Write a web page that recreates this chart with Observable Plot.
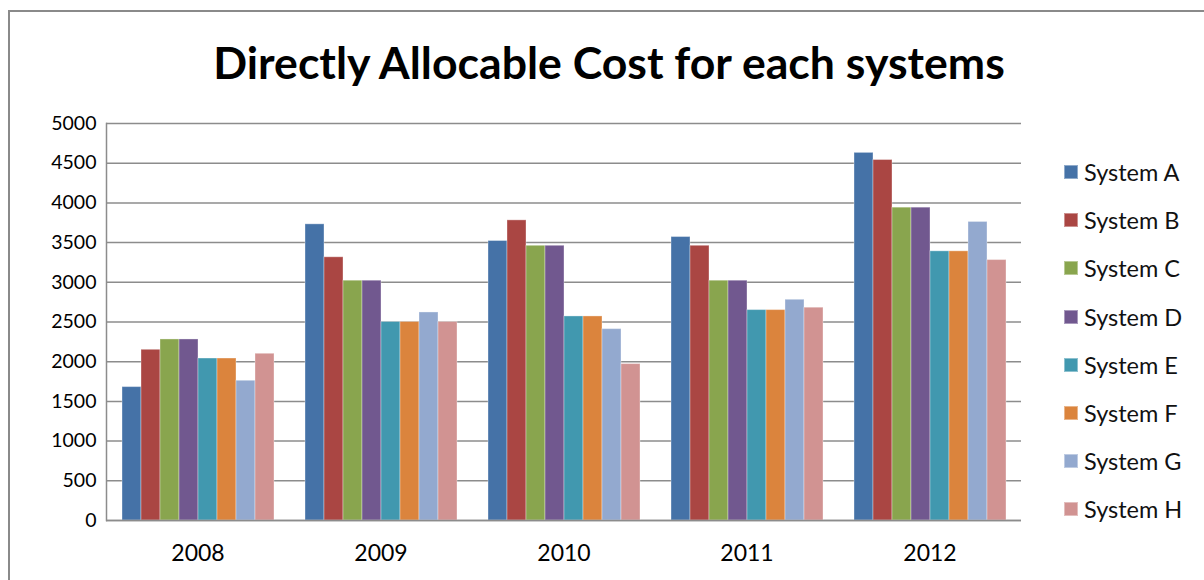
<!DOCTYPE html>
<html>
<head>
<meta charset="utf-8">
<script src="https://cdn.jsdelivr.net/npm/d3@7"></script>
<script src="https://cdn.jsdelivr.net/npm/@observablehq/plot@0.6"></script>
<style>
  html, body { margin: 0; padding: 0; background: #fff; }
  #chart { position: relative; width: 1204px; height: 580px; overflow: hidden; font-family: Lato, "Open Sans", sans-serif; }
  #border { position: absolute; left: 8px; top: 10px; right: -4px; bottom: -4px; border-left: 2px solid #8a8a8a; border-top: 2px solid #8a8a8a; pointer-events: none; }
  #title { position: absolute; left: 0; width: 1218px; top: 36px; text-align: center; font-weight: bold; font-size: 44.6px; line-height: 52px; color: #000; }
  #legend { position: absolute; left: 1064px; top: 148px; }
  .row { display: flex; align-items: center; height: 48.2px; font-size: 23.5px; color: #111; white-space: nowrap; }
  .sw { width: 14px; height: 14px; margin-right: 6px; box-sizing: border-box; border: 1px solid rgba(255,255,255,0.4); }
  #plot { position: absolute; left: 0; top: 0; }
</style>
</head>
<body>
<div id="chart">
  <div id="plot"></div>
  <div id="border"></div>
  <div id="title">Directly Allocable Cost for each systems</div>
  <div id="legend"></div>
</div>
<script>
const years = ["2008", "2009", "2010", "2011", "2012"];
const systems = ["System A", "System B", "System C", "System D", "System E", "System F", "System G", "System H"];
const colors = ["#4572A7", "#AA4643", "#89A54E", "#71588F", "#4198AF", "#DB843D", "#93A9CF", "#D19392"];

// cost per system, one value per year (2008..2012)
const systemA = [1680, 3730, 3520, 3570, 4630];
const systemB = [2150, 3315, 3780, 3460, 4540];
const systemC = [2280, 3020, 3460, 3020, 3940];
const systemD = [2280, 3020, 3460, 3020, 3940];
const systemE = [2040, 2500, 2570, 2650, 3390];
const systemF = [2040, 2500, 2570, 2650, 3390];
const systemG = [1760, 2620, 2410, 2780, 3760];
const systemH = [2100, 2500, 1970, 2680, 3280];

const yTicks = [0, 500, 1000, 1500, 2000, 2500, 3000, 3500, 4000, 4500, 5000];

const series = [systemA, systemB, systemC, systemD, systemE, systemF, systemG, systemH];
const table = [];
years.forEach((year, j) => {
  systems.forEach((system, i) => {
    table.push({year, system, value: series[i][j]});
  });
});

const grid = "#8c8c8c";

const chart = Plot.plot({
  width: 1204,
  height: 580,
  marginLeft: 105,
  marginRight: 183,
  marginTop: 123,
  marginBottom: 60,
  style: {fontFamily: "Lato, 'Open Sans', sans-serif", fontSize: "19px", color: "#000", background: "transparent", overflow: "visible"},
  fx: {domain: years, padding: 0, label: null, axis: null},
  x: {domain: systems, axis: null, paddingInner: 0, paddingOuter: 0.75},
  y: {domain: [0, 5000], label: null, axis: null},
  color: {domain: systems, range: colors},
  marks: [
    Plot.gridY(yTicks, {stroke: grid, strokeOpacity: 1, strokeWidth: 1.5}),
    Plot.barY(table, {fx: "year", x: "system", y: "value", fill: "system", stroke: "#fff", strokeOpacity: 0.35, strokeWidth: 1, insetLeft: 0, insetRight: 0}),
    Plot.ruleY([0], {stroke: grid, strokeWidth: 1.5}),
    Plot.frame({anchor: "left", facetAnchor: "left", stroke: grid, strokeOpacity: 1, strokeWidth: 1.5}),
    Plot.axisY(yTicks, {tickSize: 0, tickPadding: 10, tickFormat: d3.format("d"), label: null, fill: "#000", fontSize: 19.5}),
    Plot.axisFx({anchor: "bottom", tickSize: 0, tickPadding: 24, label: null, fill: "#000", fontSize: 23})
  ]
});
document.getElementById("plot").appendChild(chart);

const legend = document.getElementById("legend");
systems.forEach((s, i) => {
  const row = document.createElement("div");
  row.className = "row";
  const sw = document.createElement("span");
  sw.className = "sw";
  sw.style.background = colors[i];
  const label = document.createElement("span");
  label.textContent = s;
  row.appendChild(sw);
  row.appendChild(label);
  legend.appendChild(row);
});
</script>
</body>
</html>
